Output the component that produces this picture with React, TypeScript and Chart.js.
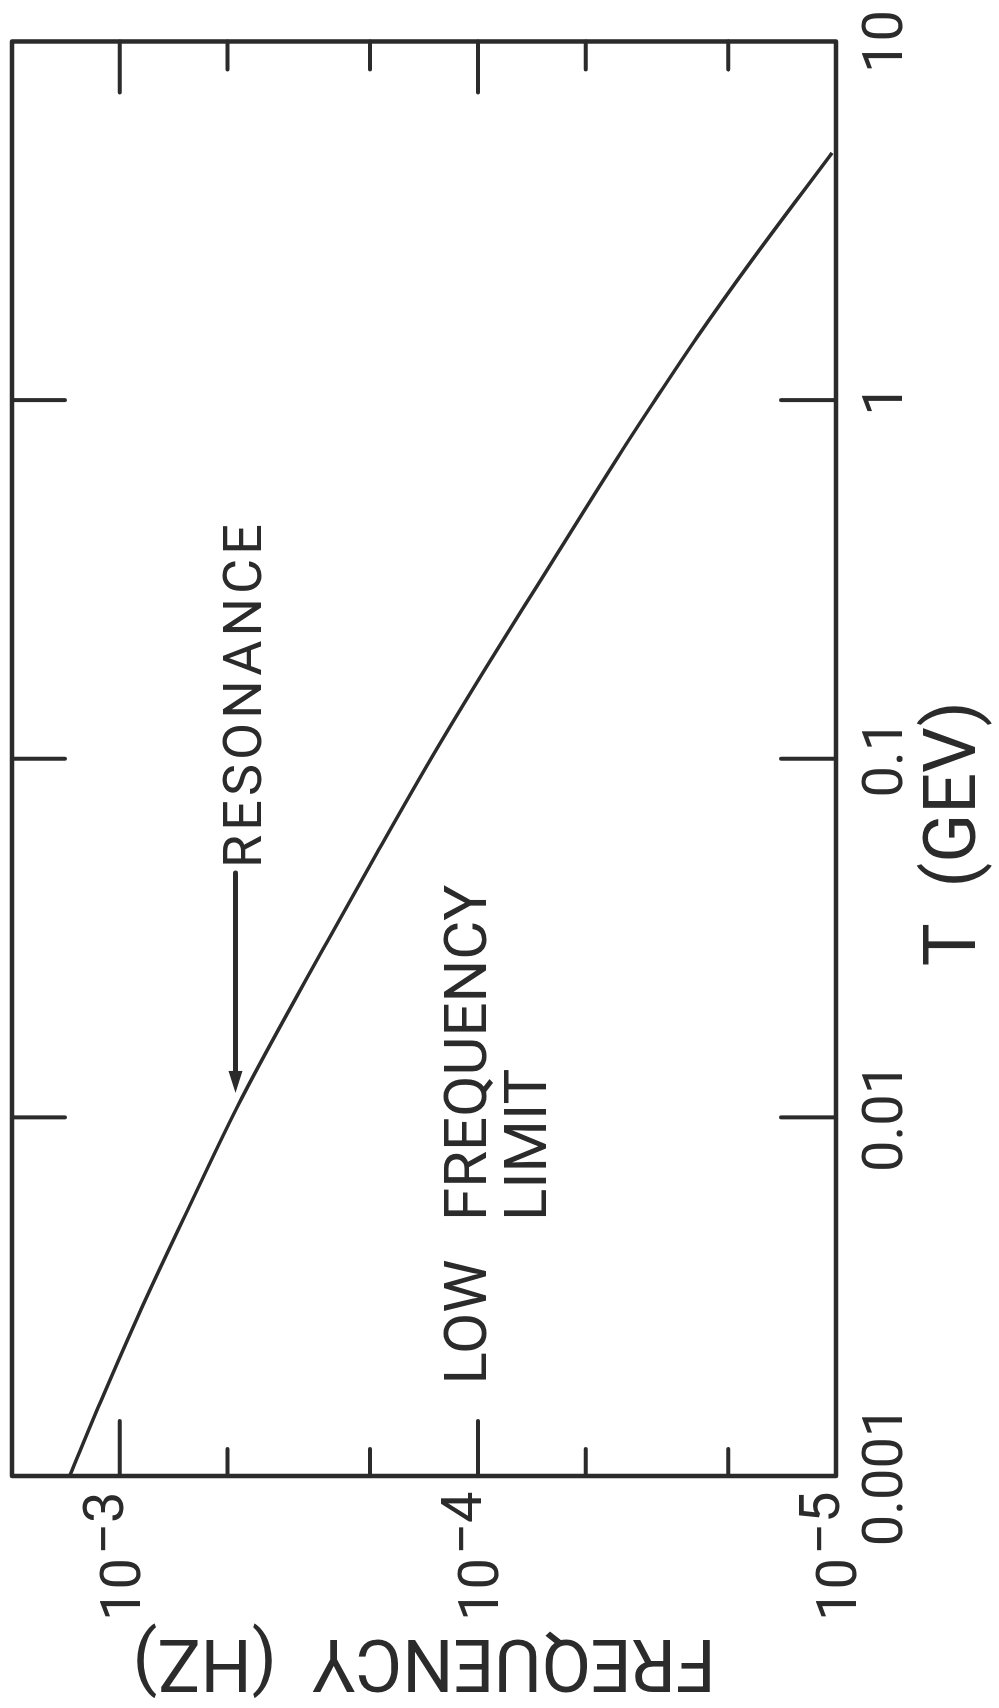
import React, { useEffect, useRef } from 'react';
import { Chart, registerables } from 'chart.js';

Chart.register(...registerables);

// ---- data ----
const T_GEV = [0.001, 0.00161, 0.00294, 0.00558, 0.0113, 0.0308, 0.0548, 0.102, 0.193, 0.303, 0.731, 1.02, 1.5, 2.43, 4.89];
const FREQ_HZ = [1.38e-3, 1.132e-3, 8.69e-4, 6.43e-4, 4.57e-4, 2.64e-4, 1.91e-4, 1.337e-4, 9.08e-5, 6.84e-5, 3.93e-5, 3.16e-5, 2.44e-5, 1.73e-5, 1.026e-5];

const T_TICKS = [0.001, 0.01, 0.1, 1, 10];
const T_TICK_LABELS = ['0.001', '0.01', '0.1', '1', '10'];
const FREQ_TICKS = [1e-5, 2e-5, 5e-5, 1e-4, 2e-4, 5e-4, 1e-3];
const FREQ_MAJOR_TICKS = [1e-5, 1e-4, 1e-3];
const FREQ_LABEL_BASE = ['10', '10', '10'];
const FREQ_LABEL_EXP = ['\u22125', '\u22124', '\u22123'];

const X_TITLE = 'T  (GEV)';
const Y_TITLE = 'FREQUENCY  (HZ)';
const NOTE_RESONANCE = 'RESONANCE';
const NOTE_LOW = 'LOW';
const NOTE_FREQUENCY = 'FREQUENCY';
const NOTE_LIMIT = 'LIMIT';

// annotation anchors in data units [T, frequency]
const RESONANCE_TEXT_AT = [0.0496, 4.04e-4];
const RESONANCE_ARROW_FROM = [0.048, 4.75e-4];
const RESONANCE_ARROW_TO = [0.0117, 4.75e-4];
const LOW_AT = [0.0018, 9.5e-5];
const FREQUENCY_AT = [0.00514, 9.5e-5];
const LIMIT_AT = [0.00514, 6.45e-5];

// ---- styling ----
const INK = '#2b2b2b';
const FONT = 'Roboto, "DejaVu Sans", sans-serif';
const W = 1708;
const H = 999;

function isClose(a: number, b: number) {
  return Math.abs(a - b) / b < 1e-6;
}

const decorPlugin = {
  id: 'decor',
  afterDatasetsDraw(chart: any) {
    const { ctx, chartArea: a, scales } = chart;
    const x = scales.x;
    const y = scales.y;
    const line = (x1: number, y1: number, x2: number, y2: number) => {
      ctx.beginPath();
      ctx.moveTo(x1, y1);
      ctx.lineTo(x2, y2);
      ctx.stroke();
    };
    ctx.save();
    ctx.strokeStyle = INK;
    ctx.fillStyle = INK;
    ctx.lineCap = 'round';
    ctx.lineJoin = 'round';
    ctx.lineWidth = 4.5;
    // frame
    ctx.strokeRect(a.left, a.top, a.right - a.left, a.bottom - a.top);
    // inward tick marks on all four sides
    ctx.lineWidth = 4;
    for (const t of x.ticks) {
      const px = x.getPixelForValue(t.value);
      if (px <= a.left + 2 || px >= a.right - 2) continue;
      line(px, a.bottom, px, a.bottom - 55);
      line(px, a.top, px, a.top + 53);
    }
    for (const t of y.ticks) {
      const py = y.getPixelForValue(t.value);
      if (py <= a.top + 2 || py >= a.bottom - 2) continue;
      const major = FREQ_MAJOR_TICKS.some((m) => isClose(t.value, m));
      line(a.left, py, a.left + (major ? 55 : 27), py);
      line(a.right, py, a.right - (major ? 51 : 28), py);
    }
    // frequency tick labels with raised exponent
    ctx.font = `56px ${FONT}`;
    ctx.textBaseline = 'alphabetic';
    FREQ_MAJOR_TICKS.forEach((v, i) => {
      const py = y.getPixelForValue(v);
      ctx.textAlign = 'right';
      ctx.fillText(FREQ_LABEL_BASE[i], a.left - 82, py + 20);
      ctx.textAlign = 'left';
      ctx.fillText(FREQ_LABEL_EXP[i], a.left - 79, py + 3);
    });
    // x axis title
    ctx.font = `72px ${FONT}`;
    ctx.textAlign = 'center';
    ctx.fillText(X_TITLE, (a.left + a.right) / 2 - 75, a.bottom + 139);
    // annotations
    ctx.font = `54px ${FONT}`;
    ctx.textAlign = 'left';
    (ctx as any).letterSpacing = '4px';
    ctx.fillText(NOTE_RESONANCE, x.getPixelForValue(RESONANCE_TEXT_AT[0]), y.getPixelForValue(RESONANCE_TEXT_AT[1]));
    (ctx as any).letterSpacing = '0px';
    const ax1 = x.getPixelForValue(RESONANCE_ARROW_FROM[0]);
    const ay1 = y.getPixelForValue(RESONANCE_ARROW_FROM[1]);
    const ax2 = x.getPixelForValue(RESONANCE_ARROW_TO[0]);
    const ay2 = y.getPixelForValue(RESONANCE_ARROW_TO[1]);
    ctx.lineWidth = 5;
    line(ax1, ay1, ax2 + 16, ay2);
    ctx.beginPath();
    ctx.moveTo(ax2, ay2);
    ctx.lineTo(ax2 + 22, ay2 - 7);
    ctx.lineTo(ax2 + 22, ay2 + 7);
    ctx.closePath();
    ctx.fill();
    ctx.font = `60px ${FONT}`;
    ctx.fillText(NOTE_LOW, x.getPixelForValue(LOW_AT[0]), y.getPixelForValue(LOW_AT[1]));
    ctx.fillText(NOTE_FREQUENCY, x.getPixelForValue(FREQUENCY_AT[0]), y.getPixelForValue(FREQUENCY_AT[1]));
    ctx.fillText(NOTE_LIMIT, x.getPixelForValue(LIMIT_AT[0]), y.getPixelForValue(LIMIT_AT[1]));
    ctx.restore();
  },
};

export default function App() {
  const ref = useRef<HTMLCanvasElement>(null);
  useEffect(() => {
    const canvas = ref.current;
    if (!canvas) return;
    const chart = new Chart(canvas, {
      type: 'line',
      data: {
        datasets: [
          {
            label: 'Resonance',
            data: T_GEV.map((t, i) => ({ x: t, y: FREQ_HZ[i] })),
            borderColor: INK,
            borderWidth: 3.5,
            pointRadius: 0,
            fill: false,
            cubicInterpolationMode: 'monotone',
          },
        ],
      },
      options: {
        animation: false,
        responsive: false,
        devicePixelRatio: 1,
        layout: { padding: { left: 0, right: 36, top: 12, bottom: 0 } },
        plugins: {
          legend: { display: false },
          tooltip: { enabled: false },
          title: { display: false },
        },
        scales: {
          x: {
            type: 'logarithmic',
            position: 'bottom',
            min: 0.001,
            max: 10,
            grid: { display: false },
            border: { display: false },
            afterBuildTicks: (s: any) => {
              s.ticks = T_TICKS.map((v) => ({ value: v }));
            },
            afterFit: (s: any) => {
              s.height = 163;
            },
            ticks: {
              autoSkip: false,
              minRotation: 0,
              maxRotation: 0,
              padding: 10,
              color: INK,
              font: { family: FONT, size: 56 },
              callback: (v: any) => {
                const i = T_TICKS.findIndex((t) => isClose(Number(v), t));
                return i >= 0 ? T_TICK_LABELS[i] : '';
              },
            },
          },
          y: {
            type: 'logarithmic',
            position: 'left',
            min: 1e-5,
            max: 2e-3,
            grid: { display: false },
            border: { display: false },
            afterBuildTicks: (s: any) => {
              s.ticks = FREQ_TICKS.map((v) => ({ value: v }));
            },
            afterFit: (s: any) => {
              s.width = 232;
            },
            ticks: { display: false },
            title: {
              display: true,
              text: Y_TITLE,
              color: INK,
              font: { family: FONT, size: 72 },
              padding: { top: 7, bottom: 0 },
            },
          },
        },
      },
      plugins: [decorPlugin],
    } as any);
    return () => chart.destroy();
  }, []);

  return (
    <div style={{ position: 'absolute', left: 0, top: 0, width: H, height: W, overflow: 'hidden', background: '#fff' }}>
      <div
        style={{
          position: 'absolute',
          left: 0,
          top: 0,
          width: W,
          height: H,
          transformOrigin: '0 0',
          transform: `translateY(${W}px) rotate(-90deg)`,
        }}
      >
        <canvas ref={ref} width={W} height={H} style={{ display: 'block', width: W, height: H }} />
      </div>
    </div>
  );
}
